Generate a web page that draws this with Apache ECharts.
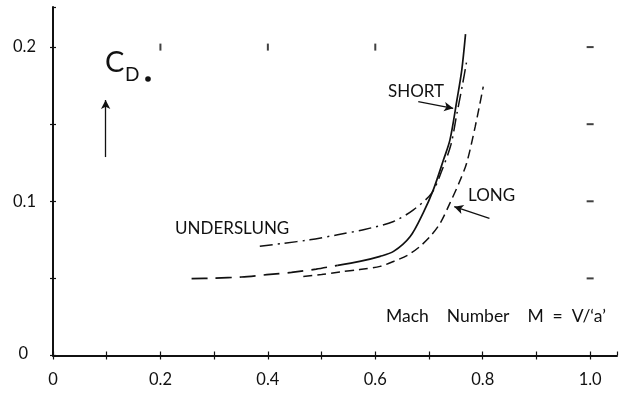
<!DOCTYPE html>
<html>
<head>
<meta charset="utf-8">
<script src="https://cdn.jsdelivr.net/npm/echarts@6/dist/echarts.min.js"></script>
<style>html,body{margin:0;padding:0;background:#fff}#c{width:620px;height:394px}</style>
</head>
<body>
<div id="c"></div>
<script>
// ---- data ----
const xTickValues = [0, 0.2, 0.4, 0.6, 0.8, 1.0];
const xTickLabels = ['0', '0.2', '0.4', '0.6', '0.8', '1.0'];
const yTickValues = [0, 0.1, 0.2];
const yTickLabels = ['0', '0.1', '0.2'];

// SHORT nacelle: extrapolated (dashed) part then measured (solid) part
const shortDashM  = [0.258, 0.300, 0.351, 0.398, 0.444, 0.490, 0.530];
const shortDashCd = [0.0498, 0.0502, 0.0509, 0.0524, 0.0539, 0.0560, 0.0585];
const shortSolidM  = [0.530, 0.571, 0.609, 0.634, 0.665, 0.689, 0.708, 0.727, 0.739, 0.752, 0.761, 0.768];
const shortSolidCd = [0.0585, 0.0610, 0.0643, 0.0675, 0.0772, 0.0924, 0.1074, 0.1269, 0.1398, 0.1657, 0.1851, 0.2084];

// LONG nacelle
const longM  = [0.466, 0.500, 0.534, 0.571, 0.609, 0.634, 0.660, 0.683, 0.703, 0.721, 0.739, 0.756, 0.770, 0.786, 0.801];
const longCd = [0.0512, 0.0525, 0.0542, 0.0557, 0.0578, 0.0610, 0.0650, 0.0707, 0.0775, 0.0859, 0.0988, 0.1120, 0.1247, 0.1484, 0.1743];

// UNDERSLUNG nacelle
const underM  = [0.385, 0.430, 0.478, 0.530, 0.578, 0.634, 0.671, 0.705, 0.724, 0.741, 0.752, 0.762, 0.770];
const underCd = [0.0708, 0.0728, 0.0750, 0.0783, 0.0816, 0.0869, 0.0945, 0.1053, 0.1200, 0.1370, 0.1570, 0.1750, 0.1905];

// grid reference marks of the original sheet
const topMarksM = [0.2, 0.4, 0.6];
const topMarksCd = [0.2, 0.2, 0.2];
const rightMarksM = [1.0, 1.0, 1.0, 1.0];
const rightMarksCd = [0.2, 0.15, 0.1, 0.05];

// annotation arrows [x1, y1, x2, y2] in data units
const arrowCd    = [0.098, 0.1287, 0.098, 0.1657];
const arrowShort = [0.680, 0.1646, 0.745, 0.1603];
const arrowLong  = [0.8125, 0.0890, 0.747, 0.0965];

const zip = (a, b) => a.map((v, i) => [v, b[i]]);
const pickLabel = (vals, labs) => v => {
  for (let i = 0; i < vals.length; i++) if (Math.abs(v - vals[i]) < 1e-6) return labs[i];
  return '';
};

const ink = '#111';
const chart = echarts.init(document.getElementById('c'), null, {renderer: 'canvas'});
const lineBase = {type: 'line', showSymbol: false, symbol: 'none', smooth: 0.3, silent: true, z: 3};
const arrowLine = a => [{coord: [a[0], a[1]]}, {coord: [a[2], a[3]]}];

chart.setOption({
  animation: false,
  backgroundColor: '#fff',
  grid: {left: 53, right: 3, top: 7, bottom: 38.5, containLabel: false},
  xAxis: [{
    type: 'value', min: 0, max: 1.05, interval: 0.1,
    axisLine: {show: true, onZero: false, lineStyle: {color: ink, width: 2}},
    axisTick: {show: true, length: 4, lineStyle: {color: ink, width: 1.2}},
    axisLabel: {
      show: true, showMaxLabel: false, margin: 16, color: ink, fontSize: 16.5, fontFamily: 'Lato',
      formatter: pickLabel(xTickValues, xTickLabels)
    },
    splitLine: {show: false}
  }, {
    type: 'value', min: 0, max: 1.05, interval: 0.1, position: 'bottom',
    axisLine: {show: false},
    axisTick: {show: true, inside: true, length: 4, lineStyle: {color: ink, width: 1.2}},
    axisLabel: {show: false}, splitLine: {show: false}
  }],
  yAxis: [{
    type: 'value', min: 0, max: 0.226, interval: 0.05,
    axisLine: {show: true, onZero: false, lineStyle: {color: ink, width: 2}},
    axisTick: {show: true, length: 3, lineStyle: {color: ink, width: 1.2}},
    axisLabel: {
      show: true, showMaxLabel: false, margin: 17, color: ink, fontSize: 16.5, fontFamily: 'Lato',
      formatter: v => { const s = pickLabel(yTickValues, yTickLabels)(v); return s === '0' ? '{z|0}' : s; },
      rich: {z: {fontSize: 16.5, fontFamily: 'Lato', color: ink, padding: [0, 8, 4, 0]}}
    },
    splitLine: {show: false}
  }, {
    type: 'value', min: 0, max: 0.226, interval: 0.05, position: 'left',
    axisLine: {show: false},
    axisTick: {show: true, inside: true, length: 3, lineStyle: {color: ink, width: 1.2}},
    axisLabel: {show: false}, splitLine: {show: false}
  }],
  series: [
    Object.assign({}, lineBase, {name: 'SHORT (extrap.)', data: zip(shortDashM, shortDashCd),
      lineStyle: {color: ink, width: 1.7, type: [16, 8]}}),
    Object.assign({}, lineBase, {name: 'SHORT', data: zip(shortSolidM, shortSolidCd),
      lineStyle: {color: ink, width: 1.7, type: 'solid'},
      markLine: {silent: true, symbol: ['none', 'arrow'], symbolSize: [7, 9],
        label: {show: false}, lineStyle: {color: ink, width: 1.3, type: 'solid'},
        data: [arrowLine(arrowCd), arrowLine(arrowShort), arrowLine(arrowLong)]}}),
    Object.assign({}, lineBase, {name: 'LONG', data: zip(longM, longCd),
      lineStyle: {color: ink, width: 1.5, type: [9, 5]}}),
    Object.assign({}, lineBase, {name: 'UNDERSLUNG', data: zip(underM, underCd),
      lineStyle: {color: ink, width: 1.5, type: [13, 5, 2, 5]}}),
    {type: 'scatter', silent: true, symbol: 'rect', symbolSize: [2, 7],
      itemStyle: {color: ink}, data: zip(topMarksM, topMarksCd)},
    {type: 'scatter', silent: true, symbol: 'rect', symbolSize: [7, 2],
      itemStyle: {color: ink}, data: zip(rightMarksM, rightMarksCd)}
  ],
  graphic: [
    {type: 'text', left: 105, top: 48, style: {text: 'C', font: '29px Lato', fill: ink}},
    {type: 'text', left: 125, top: 65, style: {text: 'D', font: '19px Lato', fill: ink}},
    {type: 'circle', shape: {cx: 148, cy: 79, r: 2.8}, style: {fill: ink}},
    {type: 'text', left: 388, top: 83, style: {text: 'SHORT', font: '17px Lato', fill: ink}},
    {type: 'text', left: 468, top: 187, style: {text: 'LONG', font: '17px Lato', fill: ink}},
    {type: 'text', left: 175, top: 220, style: {text: 'UNDERSLUNG', font: '17px Lato', fill: ink}},
    {type: 'text', left: 386, top: 307, style: {text: "Mach    Number    M  =  V/\u2018a\u2019", font: '17.5px Lato', fill: ink}}
  ]
});
</script>
</body>
</html>
